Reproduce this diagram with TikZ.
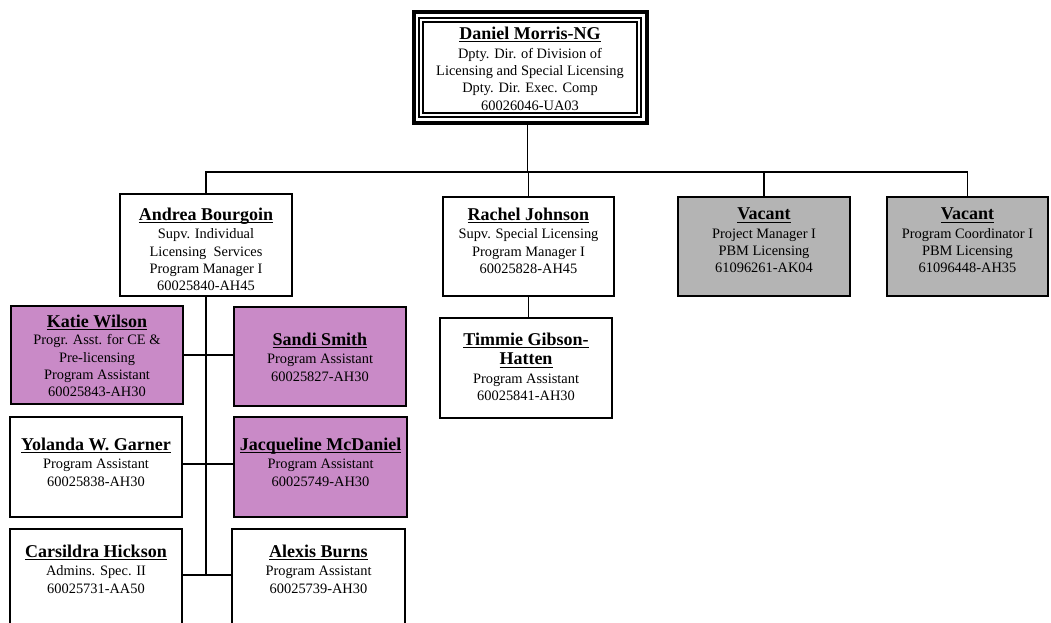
\documentclass[tikz,border=0pt]{standalone}
\usepackage{fontspec}
\setmainfont{Liberation Serif}
\definecolor{mauvefill}{RGB}{201,138,199}
\definecolor{vacgray}{RGB}{180,180,180}
\newcommand\nm[1]{{\fontsize{18}{19}\selectfont\bfseries\setbox0\hbox{#1}\rlap{\rule[-3pt]{\wd0}{1.1pt}}\box0}}
\tikzset{
  box/.style={draw, line width=1.6pt, outer sep=0pt, inner sep=0pt},
  txt/.style={anchor=north, align=center, inner sep=0pt, outer sep=0pt, font=\fontsize{14.4}{17.3}\selectfont},
  link/.style={line width=1.3pt},
  pinkbox/.style={box, fill=mauvefill},
  graybox/.style={box, fill=vacgray},
}
\begin{document}
\begin{tikzpicture}[x=1pt,y=-1pt]
\clip (0,0) rectangle (1051,623);
\fill[white] (0,0) rectangle (1051,623);

% top box with triple frame
\node[box, line width=4pt, minimum width=233.6pt, minimum height=111pt] (top) at (530.5,67.5) {};
\draw[line width=1.5pt] ([shift={(5.5,6)}]top.north west) rectangle ([shift={(-6.5,-6)}]top.south east);
\draw[line width=2.2pt] ([shift={(9.1,9.7)}]top.north west) rectangle ([shift={(-10.4,-9.7)}]top.south east);
\node[txt] (t-top) at (530,27) {\nm{Daniel Morris-NG}\\[1.5pt] Dpty. Dir. of Division of\\ Licensing and Special Licensing\\ Dpty. Dir. Exec. Comp\\ 60026046-UA03};

% second level
\node[box, minimum width=172pt, minimum height=102pt] (andrea) at (206,245) {};
\node[txt] (t-andrea) at (206,208) {\nm{Andrea Bourgoin}\\[1pt] Supv. Individual\\ Licensing~~Services\\ Program Manager I\\ 60025840-AH45};

\node[box, minimum width=171pt, minimum height=99pt] (rachel) at (528.5,246.5) {};
\node[txt] (t-rachel) at (528.5,208) {\nm{Rachel Johnson}\\[1pt] Supv. Special Licensing\\ Program Manager I\\ 60025828-AH45};

\node[graybox, minimum width=172pt, minimum height=99pt] (vac1) at (764,246.5) {};
\node[txt] (t-vac1) at (764,208) {\nm{Vacant}\\[1pt] Project Manager I\\ PBM Licensing\\ 61096261-AK04};

\node[graybox, minimum width=161pt, minimum height=99pt] (vac2) at (967.5,246.5) {};
\node[txt] (t-vac2) at (967.5,208) {\nm{Vacant}\\[1pt] Program Coordinator I\\ PBM Licensing\\ 61096448-AH35};

% under Rachel
\node[box, minimum width=172pt, minimum height=100pt] (timmie) at (526,368) {};
\node[txt] (t-timmie) at (526,333) {\nm{Timmie Gibson-}\\[2pt] \nm{Hatten}\\[1pt] Program Assistant\\ 60025841-AH30};

% under Andrea
\node[pinkbox, minimum width=172pt, minimum height=98pt] (katie) at (97,355) {};
\node[txt] (t-katie) at (97,315) {\nm{Katie Wilson}\\ Progr. Asst. for CE \&\\ Pre-licensing\\ Program Assistant\\ 60025843-AH30};

\node[pinkbox, minimum width=172pt, minimum height=99pt] (sandi) at (320,356.5) {};
\node[txt] (t-sandi) at (320,333) {\nm{Sandi Smith}\\[1pt] Program Assistant\\ 60025827-AH30};

\node[box, minimum width=172pt, minimum height=100pt] (yolanda) at (96,467) {};
\node[txt] (t-yolanda) at (96,438) {\nm{Yolanda W. Garner}\\[1pt] Program Assistant\\ 60025838-AH30};

\node[pinkbox, minimum width=173pt, minimum height=100pt] (jacq) at (320.5,467) {};
\node[txt] (t-jacq) at (320.5,438) {\nm{Jacqueline McDaniel}\\[1pt] Program Assistant\\ 60025749-AH30};

\node[box, minimum width=172pt, minimum height=111pt] (cars) at (96,584.5) {};
\node[txt] (t-cars) at (96,545) {\nm{Carsildra Hickson}\\[1pt] Admins. Spec. II\\ 60025731-AA50};

\node[box, minimum width=173pt, minimum height=111pt] (alexis) at (318.5,584.5) {};
\node[txt] (t-alexis) at (318.5,545) {\nm{Alexis Burns}\\[1pt] Program Assistant\\ 60025739-AH30};

% connectors
\coordinate (bus) at (0,172);
\coordinate (topdrop) at (527.5,123);
\draw[link] (topdrop) -- (topdrop |- bus) -| (andrea.north);
\draw[link] (topdrop |- bus) -| (rachel.north);
\draw[link] (topdrop |- bus) -| (vac1.north);
\draw[link] (topdrop |- bus) -| (vac2.north);
\draw[link] (rachel.south) -- (rachel.south |- timmie.north);

\coordinate (j1) at (0,355);
\coordinate (j2) at (0,464);
\coordinate (j3) at (0,575);
\draw[link] (andrea.south) -- (andrea.south |- j3);
\draw[link] (katie.east |- j1) -- (sandi.west |- j1);
\draw[link] (yolanda.east |- j2) -- (jacq.west |- j2);
\draw[link] (cars.east |- j3) -- (alexis.west |- j3);
\end{tikzpicture}
\end{document}
